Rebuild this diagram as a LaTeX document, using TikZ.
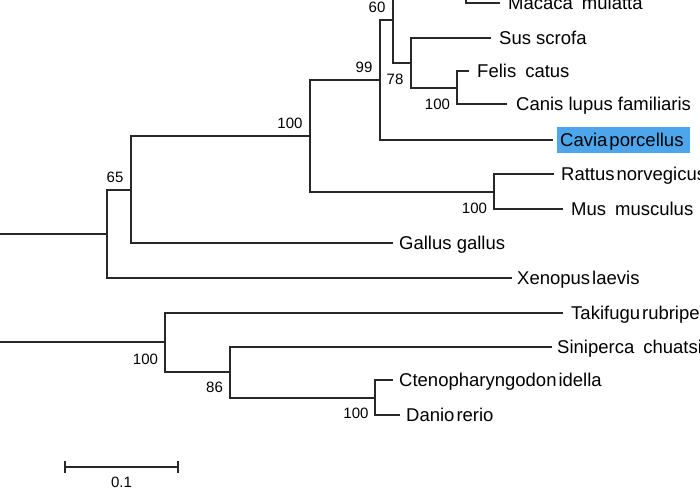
\documentclass[tikz,border=0pt]{standalone}
\usepackage{fontspec}
\setmainfont{Liberation Sans}
\definecolor{lc}{RGB}{40,40,40}
\definecolor{hl}{RGB}{77,166,236}
\newcommand\tsp{\hspace{2pt}}
\newcommand\wsp{\hspace{9pt}}
\begin{document}
\begin{tikzpicture}[x=1pt,y=-1pt,
  br/.style={line width=1.8pt, draw=lc, line join=miter},
  sp/.style={anchor=base west, inner sep=0pt, text=black, font=\fontsize{18.5}{21}\selectfont},
  bs/.style={anchor=center, inner sep=0pt, text=black, font=\fontsize{15}{17}\selectfont}]
\useasboundingbox (0,0) rectangle (700,487);
\fill[white] (0,0) rectangle (700,487);
\clip (0,0) rectangle (700,487);
% root ends (free)
\coordinate (rootA) at (-20,234);
\coordinate (rootB) at (-20,342);
% internal nodes
\coordinate (n107) at (107,234);
\coordinate (n65) at (131,190);
\coordinate (n100a) at (310,136);
\coordinate (n99) at (380,80);
\coordinate (n60) at (393,20);
\coordinate (nTop) at (466,-23);
\coordinate (nTopUp) at (466,-49);
\coordinate (n78) at (411,63);
\coordinate (nFC) at (457,88);
\coordinate (nRM) at (494,192);
\coordinate (n165) at (165,342);
\coordinate (n86) at (230,372);
\coordinate (nCD) at (375,398);
% leaves
\coordinate (Macaca) at (500,3);
\coordinate (Sus) at (491,38);
\coordinate (Felis) at (469,71);
\coordinate (Canis) at (507,104);
\coordinate (Cavia) at (553,140);
\coordinate (Rattus) at (554,174);
\coordinate (Mus) at (563,209);
\coordinate (Gallus) at (393,243);
\coordinate (Xenopus) at (512,278);
\coordinate (Takifugu) at (563,313);
\coordinate (Siniperca) at (552,347);
\coordinate (Cteno) at (393,380);
\coordinate (Danio) at (400,415);
% branches
\draw[br] (rootA) -- (n107);
\draw[br] (n107) |- (n65);
\draw[br] (n107) |- (Xenopus);
\draw[br] (n65) |- (n100a);
\draw[br] (n65) |- (Gallus);
\draw[br] (n100a) |- (n99);
\draw[br] (n100a) |- (nRM);
\draw[br] (n99) |- (n60);
\draw[br] (n99) |- (Cavia);
\draw[br] (n60) |- (nTop);
\draw[br] (n60) |- (n78);
\draw[br] (nTopUp) -- (nTop);
\draw[br] (nTop) |- (Macaca);
\draw[br] (n78) |- (Sus);
\draw[br] (n78) |- (nFC);
\draw[br] (nFC) |- (Felis);
\draw[br] (nFC) |- (Canis);
\draw[br] (nRM) |- (Rattus);
\draw[br] (nRM) |- (Mus);
\draw[br] (rootB) -- (n165);
\draw[br] (n165) |- (Takifugu);
\draw[br] (n165) |- (n86);
\draw[br] (n86) |- (Siniperca);
\draw[br] (n86) |- (nCD);
\draw[br] (nCD) |- (Cteno);
\draw[br] (nCD) |- (Danio);
% highlight
\fill[hl] (557,127) rectangle (690,153);
% species labels
\node[sp] (lMacaca) at (508,9.6) {Macaca\wsp mulatta};
\node[sp] (lSus) at (499,44.6) {Sus scrofa};
\node[sp] (lFelis) at (477,77.6) {Felis\wsp catus};
\node[sp] (lCanis) at (516,110.6) {Canis lupus familiaris};
\node[sp] (lCavia) at (560,146.6) {Cavia\tsp porcellus};
\node[sp] (lRattus) at (561,180.6) {Rattus\tsp norvegicus};
\node[sp] (lMus) at (571,215.6) {Mus\wsp musculus};
\node[sp] (lGallus) at (399,249.6) {Gallus gallus};
\node[sp] (lXenopus) at (517,284.6) {Xenopus\tsp laevis};
\node[sp] (lTakifugu) at (571,319.6) {Takifugu\tsp rubripes};
\node[sp] (lSiniperca) at (557,353.6) {Siniperca\wsp chuatsi};
\node[sp] (lCteno) at (399,386.6) {Ctenopharyngodon\tsp idella};
\node[sp] (lDanio) at (406,421.6) {Danio\tsp rerio};
% bootstrap values
\node[bs] (b60) at (377,7) {60};
\node[bs] (b99) at (364,67.5) {99};
\node[bs] (b78) at (395,79) {78};
\node[bs] (b100fc) at (437.5,104) {100};
\node[bs] (b100a) at (290,123) {100};
\node[bs] (b65) at (115,177.5) {65};
\node[bs] (b100rm) at (474.5,208) {100};
\node[bs] (b100b) at (145.5,359) {100};
\node[bs] (b86) at (214.5,387) {86};
\node[bs] (b100cd) at (356,413) {100};
% scale bar
\coordinate (sbL) at (65,467);
\coordinate (sbR) at (178,467);
\coordinate (sbLt) at (65,461);
\coordinate (sbLb) at (65,473);
\coordinate (sbRt) at (178,461);
\coordinate (sbRb) at (178,473);
\draw[br] (sbL) -- (sbR);
\draw[br] (sbLt) -- (sbLb);
\draw[br] (sbRt) -- (sbRb);
\node[bs] (sbLabel) at (121.5,482) {0.1};
\end{tikzpicture}
\end{document}
